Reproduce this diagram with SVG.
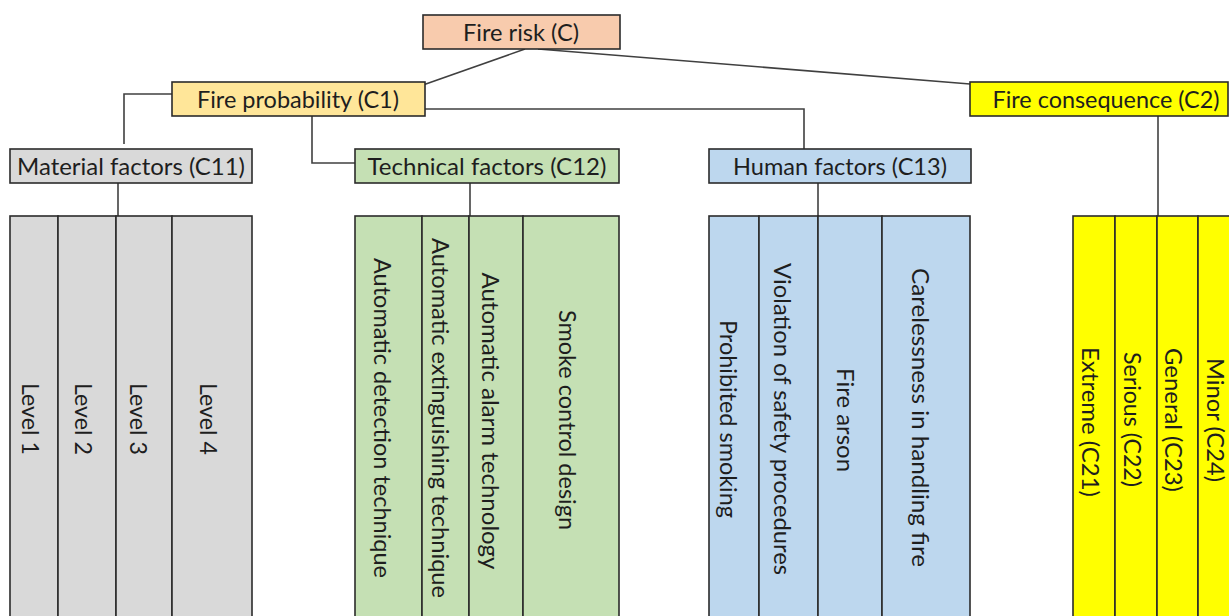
<svg xmlns="http://www.w3.org/2000/svg" width="1229" height="616" viewBox="0 0 1229 616">
<style>
  .box { stroke: #2b2b2b; stroke-width: 1.6; }
  .lbl { font-family: Lato, "Open Sans", "Liberation Sans", sans-serif; font-size: 23px; fill: #1e1e1e; text-anchor: middle; }
  .conn { fill: none; stroke: #404040; stroke-width: 1.6; }
  .c0 { fill: #F8CBAD; }
  .c1 { fill: #FFE699; }
  .c2 { fill: #FFFF00; }
  .c11 { fill: #D9D9D9; }
  .c12 { fill: #C5E0B4; }
  .c13 { fill: #BDD7EE; }
</style>
<rect width="1229" height="616" fill="#ffffff"/>

<g id="connectors">
  <line class="conn" x1="525" y1="49" x2="423" y2="85"/>
  <line class="conn" x1="538" y1="49" x2="970" y2="84"/>
  <polyline class="conn" points="172,94 124,94 124,144"/>
  <polyline class="conn" points="312,116 312,163 355,163"/>
  <polyline class="conn" points="425,109 804,109 804,149"/>
  <line class="conn" x1="1158" y1="116" x2="1158" y2="216"/>
  <line class="conn" x1="118" y1="183" x2="118" y2="216"/>
  <line class="conn" x1="470" y1="183" x2="470" y2="216"/>
  <line class="conn" x1="818" y1="183" x2="818" y2="216"/>
</g>

<g id="node-C">
  <rect class="box c0" x="423" y="15" width="197" height="34"/>
  <text class="lbl" x="521" y="41" textLength="116" lengthAdjust="spacingAndGlyphs">Fire risk (C)</text>
</g>
<g id="node-C1">
  <rect class="box c1" x="172" y="82" width="253" height="34"/>
  <text class="lbl" x="298" y="108" textLength="202" lengthAdjust="spacingAndGlyphs">Fire probability (C1)</text>
</g>
<g id="node-C2">
  <rect class="box c2" x="970" y="82" width="258" height="34"/>
  <text class="lbl" x="1106" y="108" textLength="227" lengthAdjust="spacingAndGlyphs">Fire consequence (C2)</text>
</g>
<g id="node-C11">
  <rect class="box c11" x="10" y="149" width="242" height="34"/>
  <text class="lbl" x="131" y="175" textLength="228" lengthAdjust="spacingAndGlyphs">Material factors (C11)</text>
</g>
<g id="node-C12">
  <rect class="box c12" x="355" y="149" width="264" height="34"/>
  <text class="lbl" x="487" y="175" textLength="239" lengthAdjust="spacingAndGlyphs">Technical factors (C12)</text>
</g>
<g id="node-C13">
  <rect class="box c13" x="709" y="149" width="262" height="34"/>
  <text class="lbl" x="840" y="175" textLength="214" lengthAdjust="spacingAndGlyphs">Human factors (C13)</text>
</g>

<g id="node-C11-levels">
  <rect class="box c11" x="10" y="216" width="48" height="420"/>
  <rect class="box c11" x="58" y="216" width="58" height="420"/>
  <rect class="box c11" x="116" y="216" width="56" height="420"/>
  <rect class="box c11" x="172" y="216" width="80" height="420"/>
  <text class="lbl" transform="translate(22,419) rotate(90)" textLength="72" lengthAdjust="spacingAndGlyphs">Level 1</text>
  <text class="lbl" transform="translate(75,419) rotate(90)" textLength="72" lengthAdjust="spacingAndGlyphs">Level 2</text>
  <text class="lbl" transform="translate(130,419) rotate(90)" textLength="72" lengthAdjust="spacingAndGlyphs">Level 3</text>
  <text class="lbl" transform="translate(200,419) rotate(90)" textLength="72" lengthAdjust="spacingAndGlyphs">Level 4</text>
</g>

<g id="node-C12-items">
  <rect class="box c12" x="355" y="216" width="67" height="420"/>
  <rect class="box c12" x="422" y="216" width="47" height="420"/>
  <rect class="box c12" x="469" y="216" width="54" height="420"/>
  <rect class="box c12" x="523" y="216" width="96" height="420"/>
  <text class="lbl" transform="translate(374,418) rotate(90)" textLength="320" lengthAdjust="spacingAndGlyphs">Automatic detection technique</text>
  <text class="lbl" transform="translate(432,418) rotate(90)" textLength="360" lengthAdjust="spacingAndGlyphs">Automatic extinguishing technique</text>
  <text class="lbl" transform="translate(482,421) rotate(90)" textLength="297" lengthAdjust="spacingAndGlyphs">Automatic alarm technology</text>
  <text class="lbl" transform="translate(559,420) rotate(90)" textLength="220" lengthAdjust="spacingAndGlyphs">Smoke control design</text>
</g>

<g id="node-C13-items">
  <rect class="box c13" x="709" y="216" width="50" height="420"/>
  <rect class="box c13" x="759" y="216" width="59" height="420"/>
  <rect class="box c13" x="818" y="216" width="64" height="420"/>
  <rect class="box c13" x="882" y="216" width="88" height="420"/>
  <text class="lbl" transform="translate(720,419) rotate(90)" textLength="198" lengthAdjust="spacingAndGlyphs">Prohibited smoking</text>
  <text class="lbl" transform="translate(774,419) rotate(90)" textLength="312" lengthAdjust="spacingAndGlyphs">Violation of safety procedures</text>
  <text class="lbl" transform="translate(837,420) rotate(90)" textLength="104" lengthAdjust="spacingAndGlyphs">Fire arson</text>
  <text class="lbl" transform="translate(912,417.5) rotate(90)" textLength="299" lengthAdjust="spacingAndGlyphs">Carelessness in handling fire</text>
</g>

<g id="node-C2-items">
  <rect class="box c2" x="1073" y="216" width="42" height="420"/>
  <rect class="box c2" x="1115" y="216" width="42" height="420"/>
  <rect class="box c2" x="1157" y="216" width="41" height="420"/>
  <rect class="box c2" x="1198" y="216" width="45" height="420"/>
  <text class="lbl" transform="translate(1082,422) rotate(90)" textLength="150" lengthAdjust="spacingAndGlyphs">Extreme (C21)</text>
  <text class="lbl" transform="translate(1124,419.5) rotate(90)" textLength="135" lengthAdjust="spacingAndGlyphs">Serious (C22)</text>
  <text class="lbl" transform="translate(1165,420) rotate(90)" textLength="144" lengthAdjust="spacingAndGlyphs">General (C23)</text>
  <text class="lbl" transform="translate(1207,420) rotate(90)" textLength="124" lengthAdjust="spacingAndGlyphs">Minor (C24)</text>
</g>
</svg>
